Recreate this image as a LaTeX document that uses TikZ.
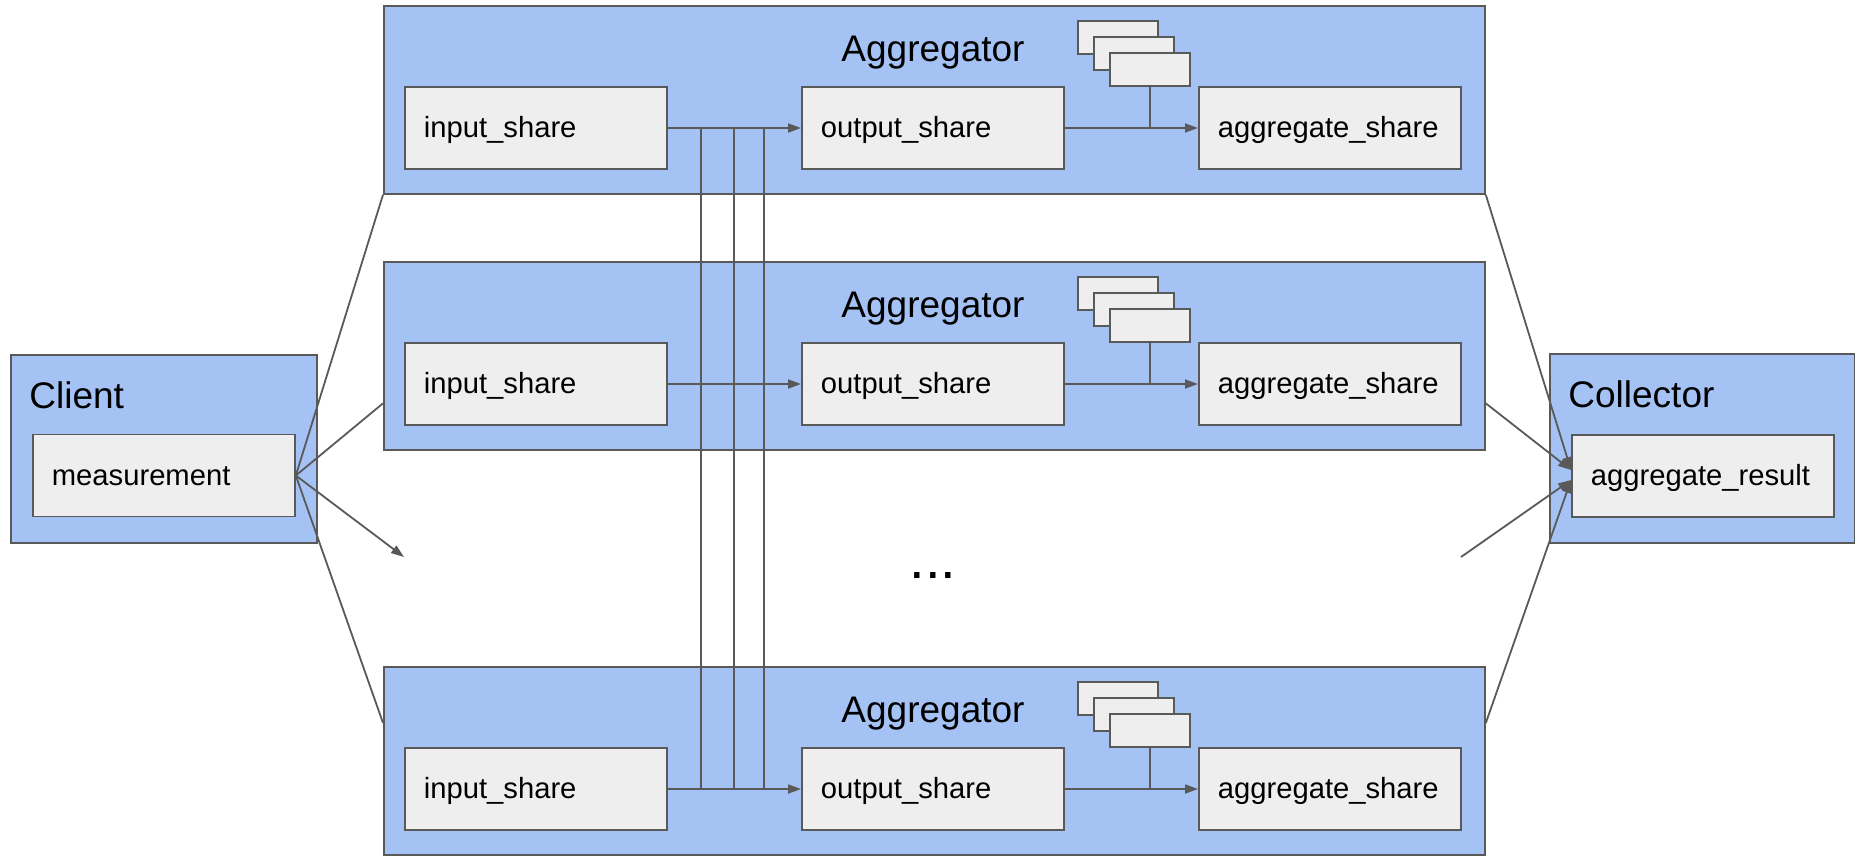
\documentclass[tikz,border=0pt]{standalone}
\usepackage{fontspec}
\setmainfont{Liberation Sans}
\usetikzlibrary{arrows.meta,calc}
\definecolor{panel}{HTML}{A4C2F4}
\definecolor{cell}{HTML}{EEEEEE}
\definecolor{ink}{HTML}{595959}

\tikzset{
  panelbox/.style={draw=ink, line width=0.9pt, fill=panel, inner sep=0pt, anchor=north west},
  cellbox/.style={draw=ink, line width=0.9pt, fill=cell, anchor=west, text width=112pt,
    inner xsep=9.5pt, inner ysep=0pt, minimum height=41pt, align=left,
    text height=0.95em, text depth=0pt,
    font=\fontsize{14.6pt}{17pt}\selectfont},
  stackbox/.style={draw=ink, line width=0.9pt, fill=cell, anchor=north west,
    minimum width=40pt, minimum height=16.5pt, inner sep=0pt},
  title/.style={font=\fontsize{18.5pt}{22pt}\selectfont, anchor=base west, inner sep=0pt},
  link/.style={draw=ink, line width=0.9pt},
  arrowlink/.style={link, -{Triangle[length=6.5pt,width=4.5pt]}},
}

\begin{document}
\begin{tikzpicture}[x=0.5pt,y=-0.5pt]
\useasboundingbox (0,0) rectangle (1855,857);

% three aggregators, each with its share pipeline
\foreach \i/\t in {1/5, 2/261, 3/666} {
  \node[panelbox, minimum width=550.5pt, minimum height=94pt] (agg\i) at (383,\t) {};
  \node[title, anchor=base] (aggt\i) at (933,\t+56) {Aggregator};
  \node[stackbox] (stA\i) at (1077,\t+15) {};
  \node[stackbox] (stB\i) at (1093,\t+31) {};
  \node[stackbox] (stC\i) at (1109,\t+47) {};
  \node[cellbox] (in\i) at (404,\t+123) {input\_share};
  \node[cellbox] (out\i) at (801,\t+123) {output\_share};
  \node[cellbox] (agsh\i) at (1198,\t+123) {aggregate\_share};
  \draw[arrowlink] (in\i) -- (out\i);
  \draw[arrowlink] (out\i) -- (agsh\i);
  \draw[link] (stC\i.south) -- (stC\i.south |- out\i.east);
}

% exchange lines between the first and last aggregator
\foreach \x [count=\k] in {701,734,764} {
  \coordinate (v\k) at (\x,0);
  \draw[link] (in1.east -| v\k) -- (in3.east -| v\k);
}

% client
\node[panelbox, minimum width=153pt, minimum height=94pt] (client) at (10,354) {};
\node[title] (clientt) at (29,408) {Client};
\node[cellbox] (meas) at (32,475.5) {measurement};

% collector
\node[panelbox, minimum width=152.5pt, minimum height=94.5pt] (coll) at (1549,353) {};
\node[title] (collt) at (1568,407) {Collector};
\node[cellbox] (res) at (1571,476) {aggregate\_result};

% client to aggregators
\coordinate (gap1) at (404,557);
\draw[link] (meas.east) -- (agg1.south west);
\draw[link] (meas.east) -- ($(agg2.south west)!0.25!(agg2.north west)$);
\draw[arrowlink] (meas.east) -- (gap1);
\draw[link] (meas.east) -- ($(agg3.north west)!0.3!(agg3.south west)$);

% aggregators to collector
\coordinate (resA) at ($(res.west)+(0,-6)$);
\coordinate (resB) at ($(res.west)+(0,4)$);
\coordinate (gap2) at (1461,557);
\draw[arrowlink] (agg1.south east) -- (resA);
\draw[arrowlink] ($(agg2.south east)!0.25!(agg2.north east)$) -- (resA);
\draw[arrowlink] (gap2) -- (resB);
\draw[arrowlink] ($(agg3.north east)!0.3!(agg3.south east)$) -- (resB);

% elided aggregators
\node[font=\fontsize{28pt}{30pt}\selectfont, inner sep=0pt] (more) at (933,575) {...};
\end{tikzpicture}
\end{document}
